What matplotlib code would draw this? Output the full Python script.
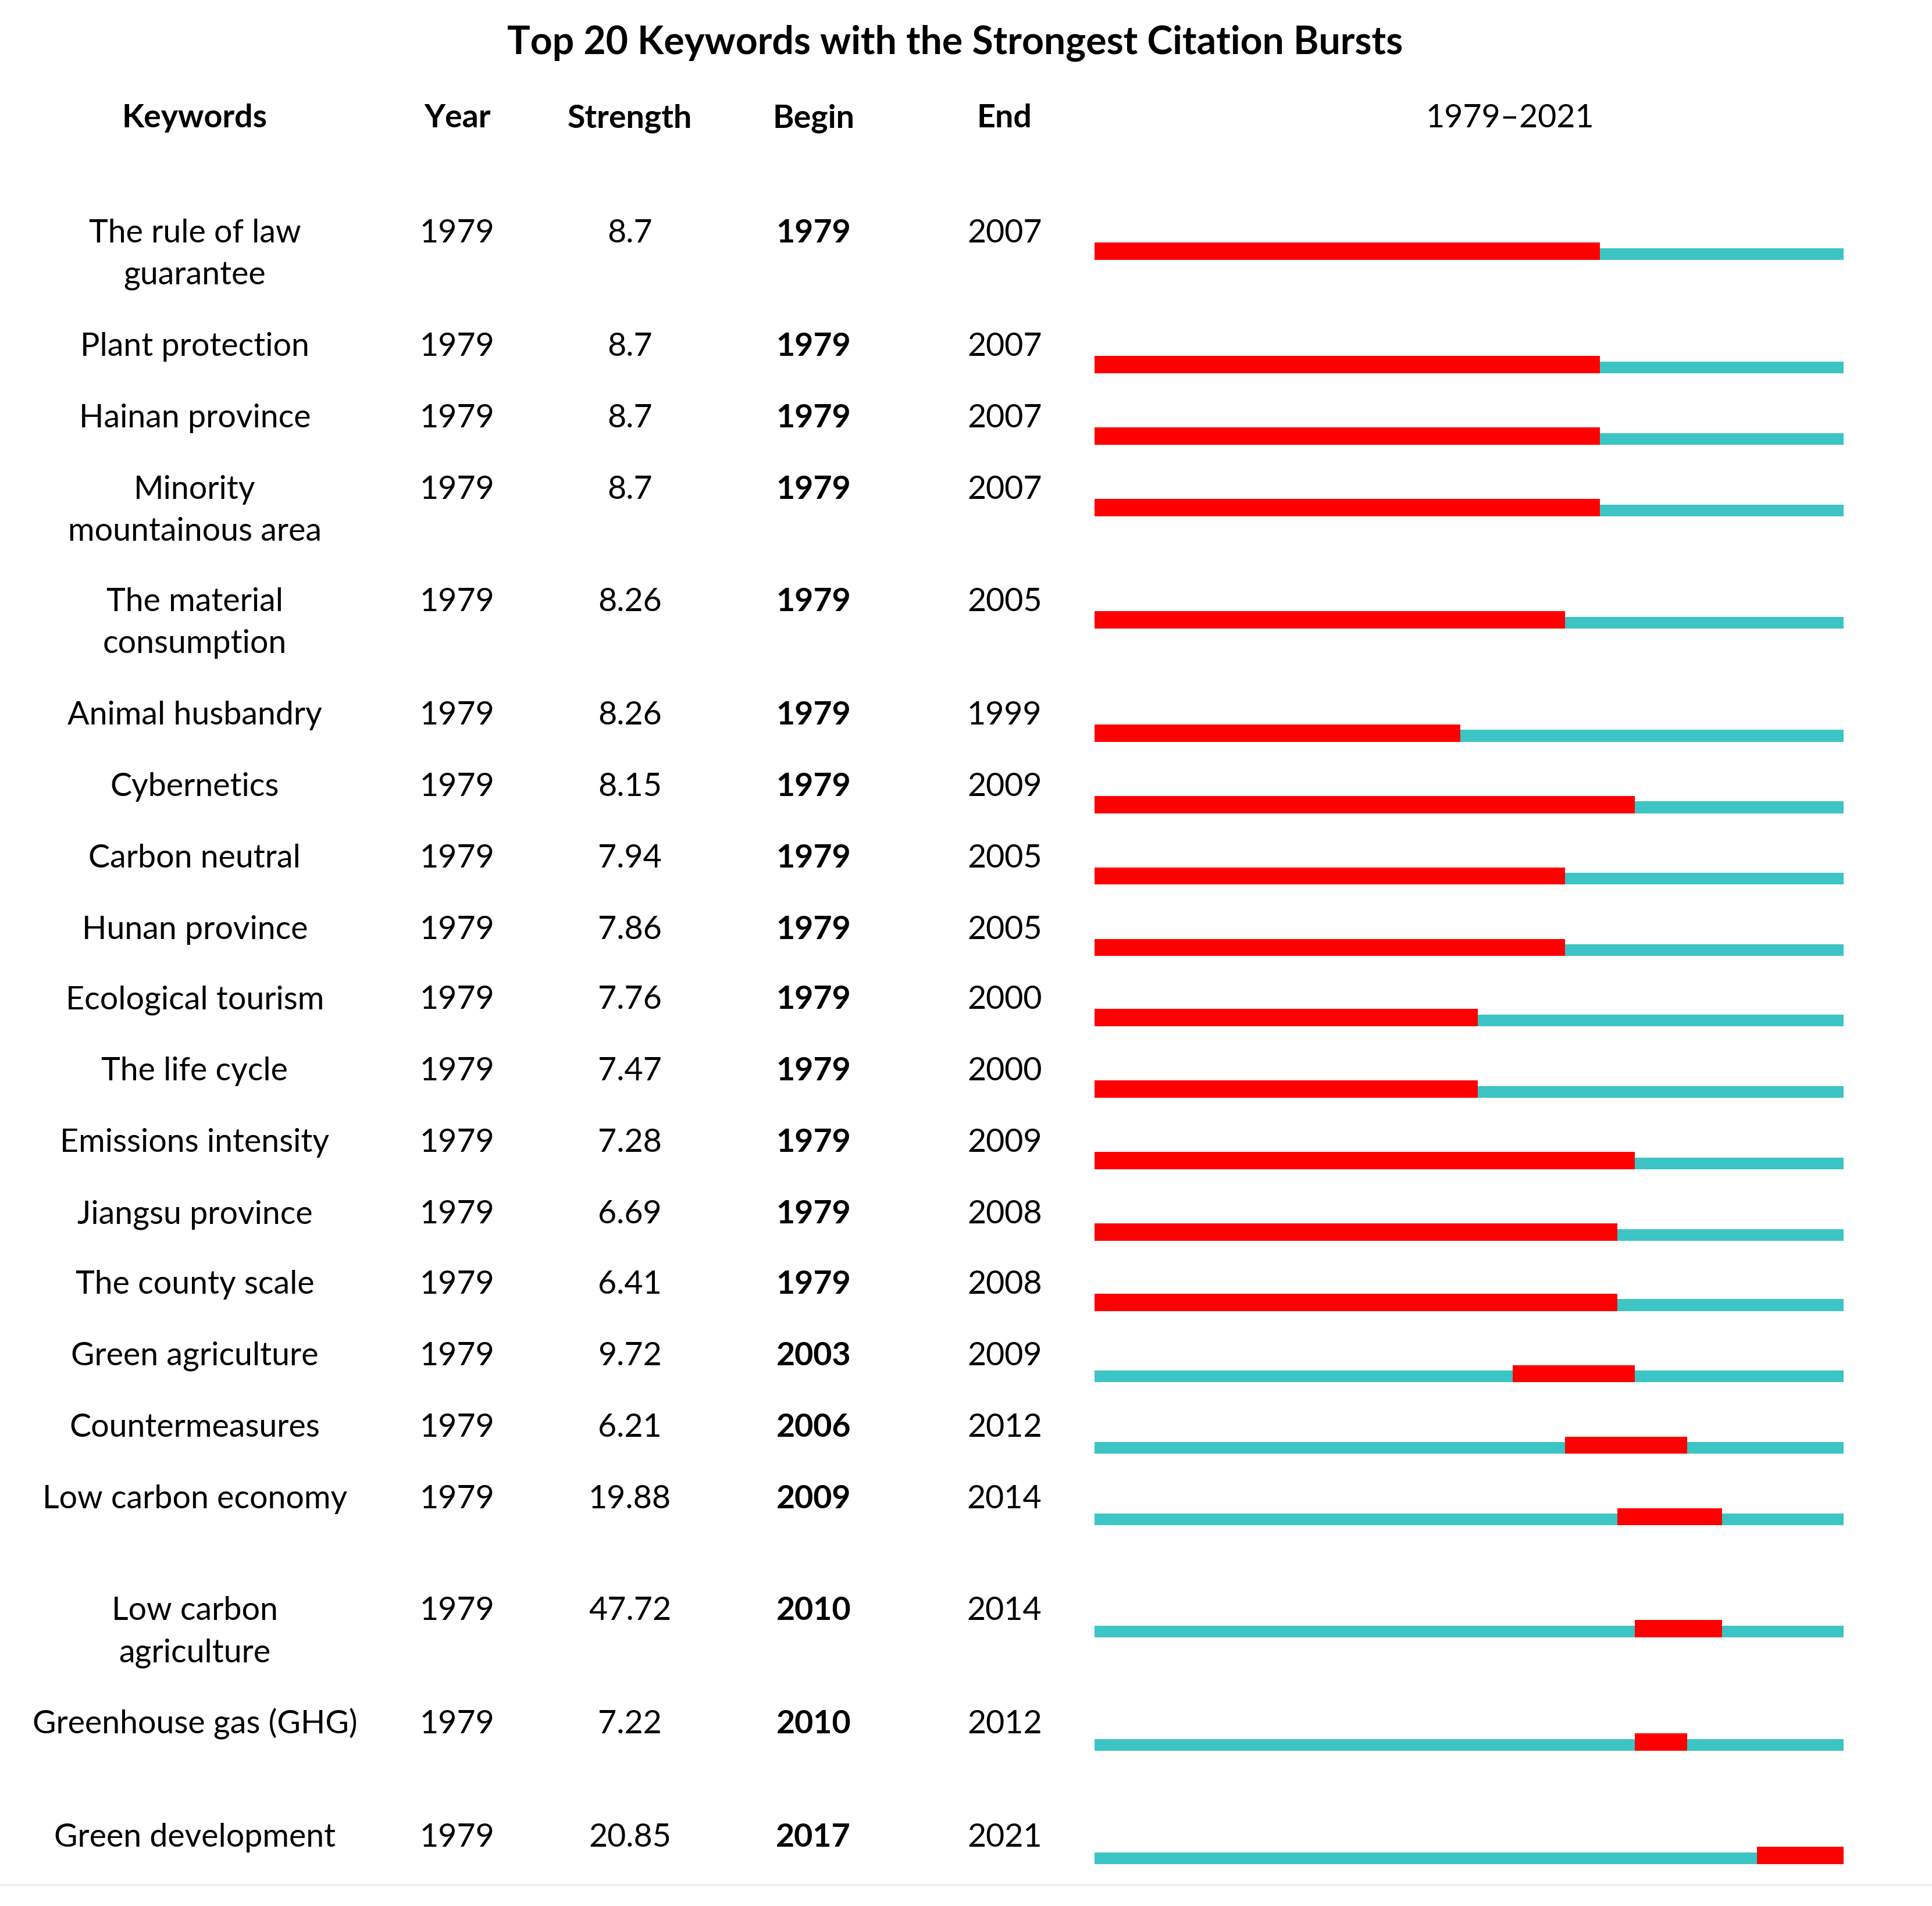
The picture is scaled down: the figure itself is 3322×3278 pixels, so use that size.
import matplotlib
matplotlib.use("Agg")
import matplotlib.pyplot as plt

plt.rcParams['font.family'] = ['Lato', 'DejaVu Sans']

# data
keywords = ["The rule of law\nguarantee", "Plant protection", "Hainan province",
            "Minority\nmountainous area", "The material\nconsumption", "Animal husbandry",
            "Cybernetics", "Carbon neutral", "Hunan province", "Ecological tourism",
            "The life cycle", "Emissions intensity", "Jiangsu province", "The county scale",
            "Green agriculture", "Countermeasures", "Low carbon economy",
            "Low carbon\nagriculture", "Greenhouse gas (GHG)", "Green development"]
years = [1979, 1979, 1979, 1979, 1979, 1979, 1979, 1979, 1979, 1979,
         1979, 1979, 1979, 1979, 1979, 1979, 1979, 1979, 1979, 1979]
strengths = [8.7, 8.7, 8.7, 8.7, 8.26, 8.26, 8.15, 7.94, 7.86, 7.76,
             7.47, 7.28, 6.69, 6.41, 9.72, 6.21, 19.88, 47.72, 7.22, 20.85]
begins = [1979, 1979, 1979, 1979, 1979, 1979, 1979, 1979, 1979, 1979,
          1979, 1979, 1979, 1979, 2003, 2006, 2009, 2010, 2010, 2017]
ends = [2007, 2007, 2007, 2007, 2005, 1999, 2009, 2005, 2005, 2000,
        2000, 2009, 2008, 2008, 2009, 2012, 2014, 2014, 2012, 2021]
first_year = 1979
last_year = 2021

# layout (page units, roughly the reference at half size)
W, H = 1568, 1547
row_y = [187, 279, 337, 395, 486, 578, 636, 694, 752, 809,
         867, 925, 983, 1040, 1098, 1156, 1214, 1305, 1397, 1489]
col_x = [158, 371, 511, 660, 815]
line_gap = 34
fs = 20
red = "#ff0000"
teal = "#3dc4c4"

fig = plt.figure(figsize=(3323 / 200, 3278 / 200), dpi=200)
ax = fig.add_axes([0, 0, 1, 1])
ax.set_xlim(0, W)
ax.set_ylim(H, 0)
ax.axis("off")

ax.text(775, 35, "Top 20 Keywords with the Strongest Citation Bursts",
        ha="center", va="center", fontsize=23.8, fontweight="bold")

headers = ["Keywords", "Year", "Strength", "Begin", "End"]
for x, h in zip(col_x, headers):
    ax.text(x, 96, h, ha="center", va="center", fontsize=fs, fontweight="bold")
ax.text(1225, 96, "%d\u2013%d" % (first_year, last_year), ha="center", va="center", fontsize=fs)

for i in range(len(keywords)):
    base = row_y[i] + 10
    for k, line in enumerate(keywords[i].split("\n")):
        ax.text(col_x[0], base + k * line_gap, line, ha="center", va="baseline", fontsize=fs)
    ax.text(col_x[1], base, str(years[i]), ha="center", va="baseline", fontsize=fs)
    ax.text(col_x[2], base, str(strengths[i]), ha="center", va="baseline", fontsize=fs)
    ax.text(col_x[3], base, str(begins[i]), ha="center", va="baseline", fontsize=fs, fontweight="bold")
    ax.text(col_x[4], base, str(ends[i]), ha="center", va="baseline", fontsize=fs)

ax.plot([0, W], [1530, 1530], color="#f0f0f0", lw=1.5)

# burst bars
bx = fig.add_axes([888 / W, 0, (1496 - 888) / W, 1])
bx.set_xlim(first_year, last_year + 1)
bx.set_ylim(H, 0)
bx.axis("off")
for i in range(len(keywords)):
    bottom = row_y[i] + 24
    bx.barh(bottom - 4.75, last_year + 1 - first_year, left=first_year, height=9.5, color=teal)
    bx.barh(bottom - 7, ends[i] + 1 - begins[i], left=begins[i], height=14, color=red)

fig.savefig("out.png", dpi=200)
